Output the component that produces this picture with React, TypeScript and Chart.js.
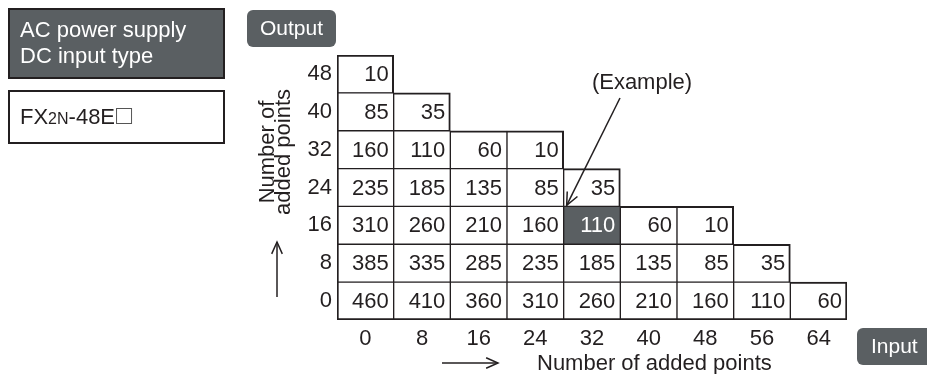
import React, { useEffect, useRef } from "react";
import { Chart, registerables } from "chart.js";

Chart.register(...registerables);

// Input points (columns)
const inputLabels = ["0", "8", "16", "24", "32", "40", "48", "56", "64"];
// Output points (rows, bottom -> top)
const outputPoints = [0, 8, 16, 24, 32, 40, 48];
const outputTickLabels = ["48", "40", "32", "24", "16", "8", "0"];

// Current values per output row (by input column)
const out0 = [460, 410, 360, 310, 260, 210, 160, 110, 60];
const out8 = [385, 335, 285, 235, 185, 135, 85, 35];
const out16 = [310, 260, 210, 160, 110, 60, 10];
const out24 = [235, 185, 135, 85, 35];
const out32 = [160, 110, 60, 10];
const out40 = [85, 35];
const out48 = [10];
const rows = [out0, out8, out16, out24, out32, out40, out48];

// Highlighted example cell: output 16, input 32
const exampleRow = 2;
const exampleCol = 4;

const FONT = "'Liberation Sans', Arial, Helvetica, sans-serif";
const INK = "#231f20";
const DARK = "#5a5f62";

const has = (r: number, c: number) =>
  r >= 0 && r < rows.length && c >= 0 && c < rows[r].length;

export default function App() {
  const ref = useRef<HTMLCanvasElement | null>(null);

  useEffect(() => {
    const canvas = ref.current;
    if (!canvas) return;

    const cellText = {
      id: "cellText",
      afterDatasetsDraw(chart: any) {
        const ctx = chart.ctx;
        ctx.save();
        ctx.font = `22px ${FONT}`;
        ctx.textAlign = "right";
        ctx.textBaseline = "middle";
        rows.forEach((vals, r) => {
          const meta = chart.getDatasetMeta(r);
          meta.data.forEach((el: any, c: number) => {
            if (c >= vals.length) return;
            const p = el.getProps(["x", "y", "base", "width"], true);
            ctx.fillStyle = r === exampleRow && c === exampleCol ? "#ffffff" : INK;
            ctx.fillText(String(vals[c]), p.x + p.width / 2 - 5, (p.y + p.base) / 2 + 1);
          });
        });
        ctx.restore();
      },
    };

    const arrowHead = (ctx: any, x1: number, y1: number, x2: number, y2: number, len: number) => {
      const a = Math.atan2(y2 - y1, x2 - x1);
      const s = 0.42;
      ctx.beginPath();
      ctx.moveTo(x2 - len * Math.cos(a - s), y2 - len * Math.sin(a - s));
      ctx.lineTo(x2, y2);
      ctx.lineTo(x2 - len * Math.cos(a + s), y2 - len * Math.sin(a + s));
      ctx.stroke();
    };

    const deco = {
      id: "deco",
      afterDraw(chart: any) {
        const ctx = chart.ctx;
        ctx.save();
        // Box 1
        ctx.fillStyle = DARK;
        ctx.fillRect(8, 8, 217, 71);
        ctx.lineWidth = 2;
        ctx.strokeStyle = INK;
        ctx.strokeRect(9, 9, 215, 69);
        ctx.fillStyle = "#ffffff";
        ctx.font = `22px ${FONT}`;
        ctx.textAlign = "left";
        ctx.textBaseline = "alphabetic";
        ctx.fillText("AC power supply", 20, 37);
        ctx.fillText("DC input type", 20, 63);
        // Box 2
        ctx.fillStyle = "#ffffff";
        ctx.fillRect(8, 90, 217, 54);
        ctx.strokeRect(9, 91, 215, 52);
        ctx.fillStyle = INK;
        let x = 20;
        ctx.font = `22px ${FONT}`;
        ctx.fillText("FX", x, 124);
        x += ctx.measureText("FX").width;
        ctx.font = `16px ${FONT}`;
        ctx.fillText("2N", x, 124);
        x += ctx.measureText("2N").width;
        ctx.font = `22px ${FONT}`;
        ctx.fillText("-48E", x, 124);
        x += ctx.measureText("-48E").width + 1;
        ctx.lineWidth = 1;
        ctx.strokeStyle = "#555";
        ctx.strokeRect(x + 0.5, 108.5, 15, 15);

        // Output box
        ctx.fillStyle = DARK;
        ctx.beginPath();
        ctx.roundRect(247, 10, 89, 37, 6);
        ctx.fill();
        ctx.fillStyle = "#ffffff";
        ctx.textAlign = "center";
        ctx.textBaseline = "middle";
        ctx.font = `21px ${FONT}`;
        ctx.fillText("Output", 291.5, 29);

        // Input box
        ctx.fillStyle = DARK;
        ctx.beginPath();
        ctx.roundRect(857, 328, 90, 37, 6);
        ctx.fill();
        ctx.fillStyle = "#ffffff";
        ctx.textAlign = "left";
        ctx.fillText("Input", 871, 347);

        // Y title (rotated)
        ctx.fillStyle = INK;
        ctx.font = `22px ${FONT}`;
        ctx.save();
        ctx.translate(274, 152);
        ctx.rotate(-Math.PI / 2);
        ctx.textAlign = "center";
        ctx.textBaseline = "alphabetic";
        ctx.fillText("Number of", 0, 0);
        ctx.fillText("added points", 0, 16);
        ctx.restore();

        // Up arrow
        ctx.strokeStyle = INK;
        ctx.lineWidth = 1.5;
        ctx.beginPath();
        ctx.moveTo(277, 297);
        ctx.lineTo(277, 242);
        ctx.stroke();
        arrowHead(ctx, 277, 297, 277, 242, 13);

        // X title + right arrow
        ctx.beginPath();
        ctx.moveTo(442, 363);
        ctx.lineTo(498, 363);
        ctx.stroke();
        arrowHead(ctx, 442, 363, 498, 363, 13);
        ctx.textAlign = "left";
        ctx.textBaseline = "middle";
        ctx.fillText("Number of added points", 537, 364);

        // Example label + arrow to highlighted cell
        ctx.textAlign = "center";
        ctx.fillText("(Example)", 642, 83);
        const el = chart.getDatasetMeta(exampleRow).data[exampleCol];
        if (el) {
          const p = el.getProps(["x", "y", "width"], true);
          const tx = p.x - p.width / 2 + 3;
          const ty = p.y - 1;
          ctx.beginPath();
          ctx.moveTo(620, 98);
          ctx.lineTo(tx, ty);
          ctx.stroke();
          arrowHead(ctx, 620, 98, tx, ty, 14);
        }
        ctx.restore();
      },
    };

    const datasets = rows.map((vals, r) => ({
      label: outputTickLabels[rows.length - 1 - r],
      data: inputLabels.map((_, c) =>
        c < vals.length ? [outputPoints[r], outputPoints[r] + 8] : null
      ),
      backgroundColor: inputLabels.map((_, c) =>
        r === exampleRow && c === exampleCol ? DARK : "#ffffff"
      ),
      borderColor: INK,
      borderWidth: (ctx: any) => {
        const c = ctx.dataIndex;
        return {
          left: c === 0 ? 2 : 1,
          right: has(r, c + 1) ? 1 : 2,
          bottom: r === 0 ? 2 : 1,
          top: has(r + 1, c) ? 1 : 2,
        };
      },
      borderSkipped: false,
      barPercentage: 1,
      categoryPercentage: 1,
      grouped: false,
      yAxisID: "y",
    }));

    const chart = new Chart(canvas, {
      type: "bar",
      data: { labels: inputLabels, datasets: datasets as any },
      options: {
        responsive: false,
        animation: false,
        events: [],
        layout: { padding: { left: 297, right: 80, top: 55, bottom: 24 } },
        plugins: { legend: { display: false }, tooltip: { enabled: false } },
        scales: {
          x: {
            type: "category",
            offset: true,
            grid: { display: false, drawTicks: false },
            border: { display: false },
            ticks: { color: INK, font: { size: 22, family: FONT }, padding: 6, maxRotation: 0 },
            afterFit: (s: any) => {
              s.height = 30;
            },
          },
          y: { type: "linear", min: 0, max: 56, display: false },
          y2: {
            type: "category",
            labels: outputTickLabels,
            position: "left",
            offset: true,
            grid: { display: false, drawTicks: false },
            border: { display: false },
            ticks: { color: INK, font: { size: 22, family: FONT }, padding: 5 },
            afterFit: (s: any) => {
              s.width = 40;
            },
          },
        },
      } as any,
      plugins: [cellText, deco],
    });
    return () => chart.destroy();
  }, []);

  return (
    <div style={{ position: "absolute", left: 0, top: 0, width: 927, height: 374, background: "#fff" }}>
      <canvas ref={ref} width={927} height={374} style={{ width: 927, height: 374, display: "block" }} />
    </div>
  );
}
